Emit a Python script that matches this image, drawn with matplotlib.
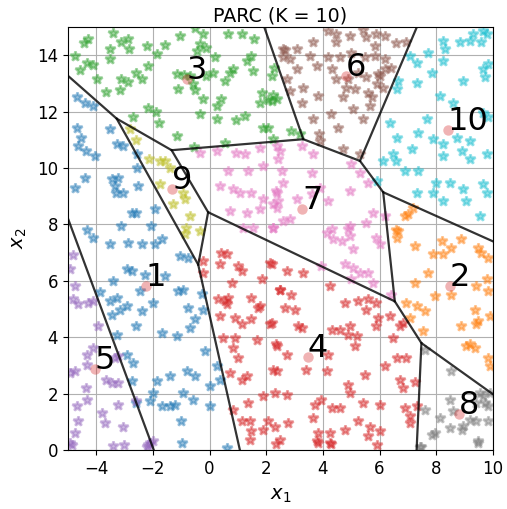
import numpy as np
import matplotlib
matplotlib.use("Agg")
import matplotlib.pyplot as plt

# points of each cluster
pts1 = [(-4.69, 12.50), (-4.40, 12.30), (-4.13, 12.20), (-4.69, 11.40), (-4.55, 11.08), (-4.64, 10.78),
        (-4.36, 10.60), (-4.05, 10.43), (-3.52, 11.37), (-3.28, 10.84), (-3.05, 10.78), (-2.55, 10.49),
        (-2.55, 10.01), (-4.40, 9.66), (-4.75, 9.30), (-3.46, 9.62), (-3.22, 9.66), (-3.34, 9.36),
        (-3.31, 9.12), (-3.05, 9.12), (-2.52, 9.36), (-2.75, 8.41), (-2.58, 8.39), (-1.93, 8.53),
        (-4.34, 7.80), (-3.11, 7.94), (-2.05, 7.94), (-4.11, 7.53), (-3.52, 7.29), (-2.87, 7.35),
        (-2.40, 7.29), (-1.93, 7.29), (-1.69, 7.47), (-1.05, 6.88), (-0.75, 6.82), (-2.93, 6.40),
        (-2.75, 6.34), (-2.28, 6.22), (-1.58, 6.17), (-3.40, 5.99), (-2.46, 5.63), (-3.87, 5.60),
        (-3.52, 5.28), (-3.28, 5.40), (-2.93, 5.10), (-3.16, 4.98), (-3.46, 4.80), (-2.58, 4.39),
        (-2.40, 4.92), (-1.99, 5.22), (-1.11, 5.63), (-0.93, 5.69), (-0.75, 5.04), (-1.69, 4.15),
        (-1.16, 4.03), (-0.69, 4.33), (-0.52, 4.63), (-0.22, 4.98), (-0.25, 5.52), (-3.28, 4.09),
        (-2.93, 3.38), (-2.69, 3.09), (-2.75, 2.43), (-2.58, 1.66), (-1.87, 2.43), (-1.99, 2.02),
        (-2.11, 1.72), (-1.69, 1.55), (-1.40, 1.55), (-1.22, 1.60), (-1.40, 2.61), (-0.93, 2.02),
        (-0.58, 1.78), (-0.81, 2.79), (-0.52, 2.61), (-0.16, 3.50), (0.01, 2.26), (0.25, 2.97),
        (0.37, 2.49), (0.01, 1.55), (-1.02, 1.01), (-0.99, 0.24), (0.60, 0.07)]
pts2 = [(7.19, 8.59), (7.01, 8.35), (6.89, 8.30), (6.58, 7.80), (6.66, 7.77), (6.60, 7.53), (7.25, 7.23),
        (7.89, 6.94), (8.25, 6.94), (8.19, 7.41), (8.89, 7.47), (8.54, 7.17), (9.48, 7.17), (9.84, 6.82),
        (7.25, 5.93), (7.72, 6.28), (7.95, 5.45), (6.95, 5.22), (7.31, 5.12), (7.60, 4.92), (7.54, 4.21),
        (8.54, 5.51), (9.78, 6.05), (9.42, 5.81), (9.84, 5.63), (9.36, 4.98), (9.89, 4.74), (9.48, 4.57),
        (8.89, 4.39), (9.19, 3.74), (9.07, 3.68), (9.36, 3.62), (9.84, 3.26), (9.89, 2.97), (7.07, 4.69),
        (9.42, 4.45), (9.60, 7.00)]
pts3 = [(-4.75, 13.98), (-4.42, 14.43), (-4.28, 14.59), (-3.42, 14.78), (-3.13, 14.47), (-2.87, 14.57),
        (-3.52, 14.21), (-2.85, 14.21), (-2.20, 14.33), (-1.85, 14.04), (-1.58, 14.36), (-1.05, 14.69),
        (-0.52, 14.95), (-0.22, 14.75), (-0.34, 14.39), (-0.11, 14.24), (-0.46, 14.15), (0.19, 13.92),
        (0.66, 14.75), (1.13, 14.75), (1.56, 14.59), (1.48, 13.98), (1.31, 13.80), (1.54, 13.44),
        (0.84, 13.50), (0.72, 13.38), (0.54, 13.09), (0.13, 13.38), (-0.11, 13.27), (-0.60, 12.97),
        (-0.52, 12.77), (-1.11, 12.79), (-1.14, 13.33), (-4.58, 13.48), (-4.32, 13.72), (-4.11, 13.64),
        (-3.99, 13.17), (-3.52, 13.86), (-3.11, 13.17), (-2.87, 13.05), (-3.16, 12.76), (-3.64, 12.70),
        (-2.60, 13.36), (-2.40, 13.15), (-2.19, 13.62), (-2.16, 12.11), (-1.89, 12.00), (-1.78, 11.61),
        (-2.72, 11.79), (-1.14, 11.14), (-0.22, 12.44), (0.42, 12.46), (0.27, 12.18), (-0.34, 11.91),
        (0.25, 11.75), (0.93, 11.70), (1.25, 11.85), (1.89, 11.40), (2.07, 11.43), (1.78, 12.32),
        (2.07, 12.40), (1.84, 12.67), (2.25, 12.58), (-0.55, 10.76), (0.54, 10.90), (-0.69, 13.27),
        (-0.91, 13.29), (2.27, 13.56), (2.19, 13.27), (2.39, 12.44), (2.19, 12.38), (2.89, 11.31),
        (3.19, 11.20), (2.25, 11.02)]
pts4 = [(-0.22, 6.70), (0.37, 6.58), (0.42, 6.99), (0.60, 6.94), (1.01, 6.52), (1.13, 6.34), (-0.22, 6.28),
        (1.84, 6.05), (2.13, 6.64), (2.48, 5.69), (0.78, 5.93), (0.31, 5.34), (0.54, 5.28), (0.66, 5.40),
        (0.60, 5.16), (1.48, 5.40), (1.72, 5.04), (1.78, 5.10), (0.37, 4.74), (0.89, 4.69), (1.13, 4.45),
        (1.48, 4.63), (2.13, 4.45), (0.48, 3.97), (0.89, 3.97), (1.66, 3.91), (0.84, 3.62), (1.01, 3.26),
        (0.72, 2.73), (1.13, 2.49), (1.31, 2.61), (1.89, 1.90), (1.36, 1.66), (0.84, 1.43), (1.13, 1.01),
        (1.42, 1.01), (1.48, 0.66), (1.89, 0.72), (1.42, 0.36), (2.07, 1.01), (2.37, 3.68), (2.37, 2.79),
        (2.19, 6.58), (2.72, 6.34), (3.31, 6.28), (2.48, 5.69), (2.89, 5.51), (2.19, 4.51), (2.66, 5.04),
        (3.01, 4.98), (3.13, 4.39), (3.25, 4.33), (4.31, 4.27), (4.60, 4.27), (4.95, 4.39), (5.13, 3.68),
        (4.89, 4.09), (5.19, 4.03), (4.78, 5.22), (5.25, 5.28), (5.60, 5.34), (5.89, 5.22), (5.54, 4.98),
        (5.95, 4.68), (6.36, 4.74), (6.84, 4.51), (6.72, 4.39), (6.48, 3.97), (5.89, 4.39), (4.25, 5.81),
        (2.36, 3.74), (2.72, 3.38), (4.19, 3.38), (4.13, 2.79), (4.89, 2.32), (5.48, 2.67), (6.19, 2.97),
        (6.60, 3.26), (6.95, 3.26), (6.72, 2.49), (6.84, 2.20), (7.25, 2.40), (3.72, 1.60), (3.95, 1.78),
        (4.31, 1.49), (4.60, 1.49), (4.95, 2.02), (5.42, 1.66), (6.01, 1.60), (6.90, 1.49), (7.31, 1.55),
        (3.66, 1.13), (5.25, 1.01), (5.66, 0.83), (6.01, 0.66), (5.60, 0.48), (3.84, 0.60), (4.25, 0.60),
        (3.78, 0.30), (4.25, 0.24), (2.48, 0.36), (2.31, 0.83), (2.78, 0.95), (4.78, 0.72), (7.07, 1.19),
        (7.07, 0.95), (2.72, 1.96), (2.31, 2.02), (2.25, 2.85), (3.42, 2.85), (2.34, 0.20), (3.84, 0.24),
        (4.28, 0.20), (5.90, 0.18)]
pts5 = [(-4.81, 6.90), (-4.93, 6.40), (-4.75, 5.81), (-4.81, 5.34), (-4.64, 5.16), (-4.28, 5.22),
        (-4.11, 5.28), (-3.93, 4.39), (-4.11, 3.62), (-4.34, 3.38), (-4.34, 3.03), (-4.93, 2.73),
        (-4.75, 2.79), (-3.34, 3.26), (-3.22, 3.32), (-3.64, 2.49), (-3.46, 2.37), (-3.22, 2.37),
        (-4.36, 2.20), (-4.69, 1.55), (-4.34, 1.78), (-3.81, 1.31), (-3.69, 0.95), (-4.64, 1.01),
        (-4.75, 0.60), (-3.05, 0.83), (-3.22, 1.60), (-2.58, 1.72), (-3.40, 0.15), (-2.22, 0.12),
        (-2.11, 0.24), (-1.99, 0.30), (-4.93, 0.24), (-4.87, 0.18), (-3.02, 0.18), (-2.17, 0.18)]
pts6 = [(4.19, 14.86), (4.48, 14.75), (4.95, 14.69), (5.42, 14.90), (5.54, 14.63), (5.87, 14.75),
        (6.19, 14.69), (6.58, 14.43), (6.95, 14.45), (3.66, 14.45), (3.07, 14.21), (2.60, 13.95),
        (2.60, 14.21), (3.54, 13.98), (4.19, 13.92), (4.60, 13.92), (5.01, 14.09), (5.48, 13.95),
        (5.84, 13.98), (6.19, 13.86), (6.42, 13.56), (3.07, 13.50), (3.78, 13.62), (4.31, 13.50),
        (4.48, 13.15), (4.89, 13.15), (5.25, 13.38), (5.54, 13.21), (5.95, 13.33), (6.19, 13.50),
        (3.31, 12.85), (3.84, 12.56), (4.81, 12.85), (5.13, 12.79), (5.60, 12.67), (5.90, 12.97),
        (6.13, 12.85), (3.25, 12.32), (4.27, 11.93), (4.72, 12.50), (5.07, 12.08), (5.42, 11.73),
        (5.72, 12.50), (5.66, 12.18), (3.66, 11.73), (4.54, 11.43), (3.87, 11.20), (4.72, 10.66),
        (5.31, 10.49), (3.89, 10.96), (2.84, 13.86), (2.72, 13.15), (2.84, 12.73), (4.48, 14.45),
        (5.84, 14.33), (6.01, 13.27), (2.66, 14.20)]
pts7 = [(2.48, 10.60), (3.25, 10.78), (3.66, 10.49), (2.42, 10.31), (2.54, 9.89), (2.60, 9.48), (2.36, 9.18),
        (3.07, 8.89), (3.89, 9.30), (3.60, 9.07), (4.19, 8.83), (5.01, 10.13), (5.31, 9.83), (5.60, 9.48),
        (4.95, 9.18), (5.78, 8.41), (6.19, 8.30), (5.54, 8.06), (2.60, 8.12), (2.84, 8.18), (2.25, 7.88),
        (4.13, 7.70), (4.95, 7.94), (3.60, 9.83), (-0.34, 10.54), (0.25, 10.60), (0.95, 10.54),
        (1.25, 10.49), (1.78, 10.72), (2.37, 10.78), (0.66, 9.89), (1.36, 9.89), (1.89, 10.07),
        (0.37, 9.36), (1.07, 9.12), (1.48, 9.12), (0.84, 9.24), (1.89, 8.89), (2.37, 9.12), (2.25, 8.71),
        (0.72, 8.47), (1.31, 8.41), (1.78, 8.53), (2.37, 8.59), (1.19, 7.88), (1.54, 7.88), (2.25, 7.88),
        (2.42, 8.83), (4.36, 7.47), (4.66, 7.41), (4.95, 7.59), (5.89, 7.53), (6.01, 7.29), (5.07, 7.11),
        (4.78, 6.58), (5.07, 6.46), (5.31, 6.28), (5.60, 6.28), (5.78, 5.93), (5.01, 6.05), (3.95, 6.52),
        (6.42, 5.51), (4.89, 7.82), (4.31, 7.82)]
pts8 = [(7.60, 3.56), (8.54, 2.79), (7.60, 1.43), (8.13, 1.13), (8.60, 1.37), (9.19, 1.07), (9.42, 1.66),
        (9.72, 1.66), (9.84, 1.55), (9.54, 2.02), (9.42, 1.01), (9.84, 1.01), (8.48, 0.78), (8.90, 0.72),
        (7.84, 0.54), (9.48, 0.30), (7.42, 0.12), (8.48, 1.78), (9.89, 2.02), (9.66, 1.90), (7.48, 0.12),
        (9.48, 0.24), (8.95, 0.85), (7.95, 0.60)]
pts9 = [(-2.81, 11.37), (-2.60, 10.99), (-2.13, 10.31), (-1.75, 10.25), (-1.58, 10.25), (-1.40, 10.01),
        (-1.75, 9.42), (-0.93, 9.12), (-0.87, 8.89), (-1.28, 8.71), (-0.69, 8.30), (-0.84, 7.88),
        (-0.34, 7.76), (-0.87, 7.65)]
pts10 = [(8.25, 14.51), (8.31, 14.21), (8.84, 14.45), (9.19, 14.51), (9.31, 14.75), (9.66, 14.86),
         (9.78, 14.75), (9.60, 14.45), (7.72, 14.09), (7.07, 13.98), (7.31, 13.74), (8.25, 13.80),
         (7.84, 13.38), (8.95, 13.09), (9.66, 13.50), (9.84, 13.68), (9.72, 13.21), (7.31, 13.03),
         (6.66, 13.09), (6.60, 12.79), (8.13, 12.56), (8.60, 12.32), (9.66, 11.96), (9.84, 11.79),
         (7.66, 11.73), (6.36, 11.61), (7.36, 11.25), (6.60, 11.08), (7.89, 11.02), (8.25, 10.84),
         (8.72, 11.08), (9.19, 10.96), (8.90, 10.60), (7.13, 10.66), (6.48, 10.49), (6.58, 10.25),
         (6.13, 10.25), (6.90, 9.89), (7.36, 9.89), (8.25, 10.43), (9.19, 10.31), (9.78, 10.49),
         (8.01, 9.48), (8.48, 9.48), (8.95, 9.24), (9.66, 9.42), (7.31, 9.12), (7.89, 9.12), (8.25, 8.83),
         (9.07, 8.83), (9.78, 9.12), (9.54, 8.30), (5.90, 9.54)]
clusters = [pts1, pts2, pts3, pts4, pts5, pts6, pts7, pts8, pts9, pts10]

# cluster centroids and labels
centroid_x = [-2.25, 8.48, -0.80, 3.47, -4.05, 4.81, 3.26, 8.80, -1.33, 8.41]
centroid_y = [5.83, 5.83, 13.15, 3.30, 2.88, 13.26, 8.56, 1.28, 9.24, 11.34]
labels = ['1', '2', '3', '4', '5', '6', '7', '8', '9', '10']

# partition boundaries (polylines)
edge_a = [(-5, 13.27), (-3.28, 11.75), (-1.34, 10.63), (3.31, 11.02), (5.31, 10.25), (6.13, 9.14), (10, 7.40)]
edge_b = [(-3.28, 11.75), (-0.40, 6.57), (1.07, 0)]
edge_c = [(-1.34, 10.63), (-0.05, 8.43), (6.54, 5.27), (7.48, 3.79), (10, 1.98)]
edge_d = [(-0.05, 8.43), (-0.40, 6.57)]
edge_e = [(1.93, 15), (3.31, 11.02)]
edge_f = [(5.31, 10.25), (7.32, 15)]
edge_g = [(6.13, 9.14), (6.54, 5.27)]
edge_h = [(7.48, 3.79), (7.31, 0)]
edge_i = [(-5, 8.21), (-1.97, 0)]
edges = [edge_a, edge_b, edge_c, edge_d, edge_e, edge_f, edge_g, edge_h, edge_i]

cols = plt.get_cmap('tab10').colors

fig = plt.figure(figsize=(5.07, 5.09), dpi=100)
ax = fig.add_axes([0.134, 0.116, 0.838, 0.831])

for i, pts in enumerate(clusters):
    p = np.array(pts)
    ax.plot(p[:, 0], p[:, 1], '*', color=cols[i], markersize=7,
            markeredgewidth=1.8, alpha=0.45)

for e in edges:
    p = np.array(e)
    ax.plot(p[:, 0], p[:, 1], '-', color='k', linewidth=1.6, alpha=0.8)

ax.plot(centroid_x, centroid_y, 'o', color='tab:red', markersize=7.5, alpha=0.35,
        markeredgewidth=0)
for x, y, s in zip(centroid_x, centroid_y, labels):
    ax.text(x, y, s, fontsize=23)

ax.set_xlim(-5, 10)
ax.set_ylim(0, 15)
ax.set_xticks(np.arange(-4, 11, 2))
ax.set_yticks(np.arange(0, 15, 2))
ax.tick_params(labelsize=12)
ax.grid(True)
ax.set_xlabel('$x_1$', fontsize=14, labelpad=6)
ax.set_ylabel('$x_2$', fontsize=14, labelpad=6)
ax.set_title('PARC (K = 10)', fontsize=13.7, pad=4)

fig.savefig('out.png', dpi=100)
